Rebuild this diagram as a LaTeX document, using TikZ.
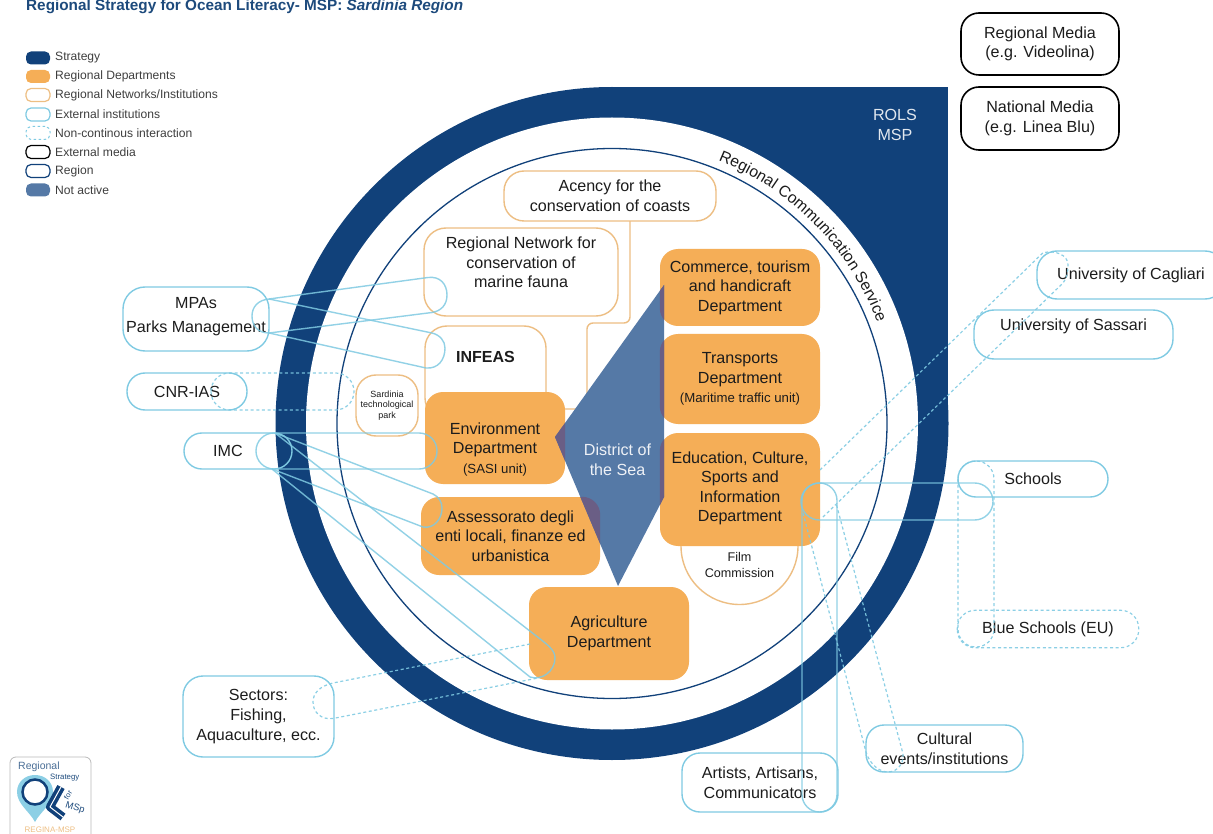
\documentclass[tikz,border=0pt]{standalone}
\usepackage{fontspec}
\setmainfont{Liberation Sans}
\usetikzlibrary{decorations.text}
\definecolor{navy}{HTML}{11417A}
\definecolor{dept}{HTML}{F5AE57}
\definecolor{netline}{HTML}{EDBE83}
\definecolor{sky}{HTML}{7FCAE2}
\definecolor{inactive}{HTML}{5579A6}
\definecolor{overlapc}{HTML}{6A5E85}
\definecolor{ink}{HTML}{1C1C1C}
\definecolor{titlec}{HTML}{1D4A7C}
\tikzset{
  base/.style={rectangle,inner sep=0pt,align=center,text=ink,font=\fontsize{16.1}{19.6}\selectfont},
  deptbox/.style={base,fill=dept,rounded corners=18pt},
  netbox/.style={base,draw=netline,line width=1.4pt,fill=white,rounded corners=20pt},
  extbox/.style={base,draw=sky,line width=1.4pt,rounded corners=18pt},
  medbox/.style={base,draw=black,line width=1.6pt,fill=white,rounded corners=18pt},
  link/.style={draw=sky,line width=1.4pt,opacity=.85},
  dashlink/.style={draw=sky,line width=1.2pt,dash pattern=on 3pt off 2.6pt,opacity=.9},
  swatch/.style={rectangle,minimum width=24pt,minimum height=13pt,inner sep=0pt,rounded corners=5pt},
  legtxt/.style={anchor=west,inner sep=0pt,text=ink!85,font=\fontsize{12.1}{14}\selectfont},
}
\newcommand{\sm}[1]{{\fontsize{13.2}{15}\selectfont #1}}
\begin{document}
\begin{tikzpicture}[x=1pt,y=-1pt]
\useasboundingbox (0,0) rectangle (1213,834);
% strategy ground
\fill[navy] (612,423.5) circle[radius=336.5pt];
\fill[navy] (612,87) rectangle (948,423.5);
\fill[white] (612,423.5) circle[radius=306pt];
\draw[navy,line width=1.3pt] (612,423.5) circle[radius=275pt];
\path[decorate,decoration={text along path,text align=left,
  text={|\fontsize{15.8}{18}\selectfont\color{ink}|Regional Communication Service}}]
  ({612+284*cos(68)},{423.5-284*sin(68)}) arc[start angle=68,end angle=15,radius=284pt];
\node[base,text=white!88!navy] (rols) at (895,125) {ROLS\\MSP};
% title
\node[anchor=west,inner sep=0pt,text=titlec,font=\bfseries\fontsize{15.3}{16}\selectfont] (title) at (26,7)
  {Regional Strategy for Ocean Literacy- MSP: \textit{Sardinia Region}};
% legend
\node[swatch,fill=navy] (l1) at (38,58) {};
\node[swatch,fill=dept] (l2) at (38,76.5) {};
\node[swatch,draw=netline,line width=1.2pt] (l3) at (38,95) {};
\node[swatch,draw=sky,line width=1.2pt] (l4) at (38,114.5) {};
\node[swatch,draw=sky,line width=1pt,dash pattern=on 2.5pt off 2.5pt] (l5) at (38,133) {};
\node[swatch,draw=black,line width=1.2pt] (l6) at (38,152) {};
\node[swatch,draw=navy,line width=1.2pt] (l7) at (38,171) {};
\node[swatch,fill=inactive] (l8) at (38,190) {};
\node[legtxt] (t1) at (55,58) {Strategy};
\node[legtxt] (t2) at (55,76.5) {Regional Departments};
\node[legtxt] (t3) at (55,95) {Regional Networks/Institutions};
\node[legtxt] (t4) at (55,114.5) {External institutions};
\node[legtxt] (t5) at (55,133) {Non-continous interaction};
\node[legtxt] (t6) at (55,152) {External media};
\node[legtxt] (t7) at (55,171) {Region};
\node[legtxt] (t8) at (55,190) {Not active};
% media
\node[medbox,minimum width=158pt,minimum height=62pt] (rmedia) at (1040,44) {Regional Media\\(e.g. Videolina)};
\node[medbox,minimum width=158pt,minimum height=63pt] (nmedia) at (1040,118.5) {National Media\\(e.g. Linea Blu)};
% regional networks
\coordinate (fa) at (630,221);
\coordinate (fb) at (630,323);
\coordinate (fc) at (587,323);
\coordinate (fd) at (587,409);
\coordinate (fe) at (560,409);
\draw[netline,line width=1.4pt,rounded corners=6pt] (fa) -- (fb) -- (fc) -- (fd) -- (fe);
\node[netbox,minimum width=212pt,minimum height=50pt] (acency) at (610,196) {Acency for the\\conservation of coasts};
\node[netbox,minimum width=194pt,minimum height=88pt,rounded corners=22pt] (rnet) at (521,272) {Regional Network for\\conservation of\\marine fauna\\\mbox{}};
\node[netbox,minimum width=121pt,minimum height=94pt,rounded corners=22pt,font=\bfseries\fontsize{16}{19.6}\selectfont] (infeas) at (485.5,373) {INFEAS\\[12.4pt]\mbox{}};
\node[netbox,minimum width=62pt,minimum height=61pt,font=\fontsize{9}{10.5}\selectfont] (park) at (387,405.5) {Sardinia\\technological\\park};
\node[netbox,circle,rounded corners=0pt,minimum size=117pt,font=\fontsize{12.6}{16}\selectfont] (film) at (739.5,546) {\mbox{}\\[32pt]Film\\Commission};
% departments
\node[deptbox,minimum width=140pt,minimum height=92pt] (env) at (495,438) {\mbox{}\\[14.4pt]Environment\\Department\\\sm{(SASI unit)}};
\node[deptbox,minimum width=179pt,minimum height=78pt] (assess) at (510.5,536) {Assessorato degli\\enti locali, finanze ed\\urbanistica};
\node[deptbox,minimum width=160pt,minimum height=93pt] (agri) at (609,633.5) {Agriculture\\Department\\[-16pt]\mbox{}};
\node[deptbox,minimum width=160pt,minimum height=77pt] (comm) at (740,287.5) {Commerce, tourism\\and handicraft\\Department};
\node[deptbox,minimum width=160pt,minimum height=90pt] (trans) at (740,379) {Transports\\Department\\\sm{(Maritime traffic unit)}};
\node[deptbox,minimum width=160pt,minimum height=113pt] (edu) at (740,489.5) {Education, Culture,\\Sports and\\Information\\Department\\[-14pt]\mbox{}};
% district of the sea
\coordinate (da) at (555,437);
\coordinate (db) at (664,285);
\coordinate (dc) at (664,497);
\coordinate (dd) at (618,586);
\fill[inactive] (da) -- (db) -- (dc) -- (dd) -- cycle;
\begin{scope}
\clip (da) -- (db) -- (dc) -- (dd) -- cycle;
\fill[overlapc,rounded corners=18pt] (env.south west) rectangle (env.north east);
\fill[overlapc,rounded corners=18pt] (assess.south west) rectangle (assess.north east);
\fill[overlapc,rounded corners=18pt] (comm.south west) rectangle (comm.north east);
\fill[overlapc,rounded corners=18pt] (trans.south west) rectangle (trans.north east);
\fill[overlapc,rounded corners=18pt] (edu.south west) rectangle (edu.north east);
\end{scope}
\node[base,text=white!90!inactive] (district) at (617.5,460) {District of\\the Sea};
% external institutions
\node[extbox,minimum width=146pt,minimum height=64pt,rounded corners=22pt] (mpas) at (196,319) {MPAs\\[4.4pt]Parks Management\\[-12pt]\mbox{}};
\node[extbox,minimum width=120pt,minimum height=37pt] (cnr) at (187,391.5) {CNR-IAS};
\node[extbox,minimum width=108pt,minimum height=36pt,rounded corners=17.9pt] (imc) at (238,451) {IMC\hspace*{20pt}};
\node[extbox,minimum width=151pt,minimum height=81pt,rounded corners=20pt] (sect) at (258.5,716.5) {Sectors:\\Fishing,\\Aquaculture, ecc.};
\node[extbox,minimum width=188pt,minimum height=48pt,rounded corners=20pt] (cag) at (1131,275) {University of Cagliari};
\node[extbox,minimum width=199pt,minimum height=49pt,rounded corners=20pt] (sass) at (1073.5,334.5) {University of Sassari\\\mbox{}};
\node[extbox,minimum width=150pt,minimum height=36pt,rounded corners=17.9pt] (sch) at (1033,479) {Schools};
\node[extbox,minimum width=180pt,minimum height=36pt,rounded corners=17.9pt,draw=none] (blue) at (1048,629) {Blue Schools (EU)};
\draw[dashlink,rounded corners=17.9pt] (blue.south west) rectangle (blue.north east);
\node[extbox,minimum width=157pt,minimum height=47pt] (cult) at (944.5,748.5) {Cultural\\events/institutions};
\node[extbox,minimum width=156pt,minimum height=59pt] (art) at (760,782.5) {Artists, Artisans,\\Communicators};
% connectors: MPAs
\coordinate (m1) at (269,299);
\coordinate (m2) at (269,333);
\coordinate (r1) at (428,277.5);
\coordinate (r2) at (432,312.5);
\coordinate (i1) at (432,333);
\coordinate (i2) at (426,368);
\draw[link] (m1) -- (r1) .. controls (440,276) and (447,284) .. (447,295) .. controls (447,305) and (441,311) .. (r2) -- (m2)
  .. controls (258,333) and (252,326) .. (252,316) .. controls (252,307) and (258,300) .. (m1);
\draw[link] (m1) -- (i1) .. controls (440,335) and (445,341) .. (445,348) .. controls (445,360) and (438,369) .. (i2) -- (m2);
% CNR to park
\coordinate (c1) at (211,373);
\coordinate (c2) at (354,410);
\draw[dashlink,rounded corners=18.4pt] (c1) rectangle (c2);
% IMC
\coordinate (e1) at (256,433);
\coordinate (e2) at (437,469);
\draw[link,rounded corners=17.9pt] (e1) rectangle (e2);
\coordinate (im1) at (275,433);
\coordinate (im2) at (272,469);
\coordinate (as1) at (433,494);
\coordinate (as2) at (423,527);
\coordinate (ag1) at (535,635);
\coordinate (ag2) at (530,677);
\draw[link] (im1) -- (as1) .. controls (439,497) and (442,502) .. (442,508) .. controls (442,519) and (434,529) .. (as2) -- (im2);
\draw[link] (im1) -- (ag1) .. controls (548,645) and (555,650) .. (555,658) .. controls (555,671) and (542,681) .. (ag2) -- (im2);
% Sectors
\coordinate (s1) at (333,683);
\coordinate (s2) at (333,718.5);
\coordinate (ga1) at (530,644);
\coordinate (ga2) at (538,678);
\draw[dashlink] (ga1) -- (s1) .. controls (320,686) and (313,693) .. (313,702) .. controls (313,713) and (322,720) .. (s2) -- (ga2);
% Education
\coordinate (u1) at (801,483);
\coordinate (u2) at (993,520);
\draw[link,rounded corners=18.4pt] (u1) rectangle (u2);
\coordinate (a1) at (802,483);
\coordinate (a2) at (837,812);
\draw[link,rounded corners=17.4pt] (a1) rectangle (a2);
% universities
\coordinate (x1) at (820,470);
\coordinate (x2) at (822,518);
\coordinate (y1) at (1043,252.7);
\coordinate (y2) at (1063,283);
\draw[dashlink] (x1) -- (y1) .. controls (1056,250) and (1068,255) .. (1068,265) .. controls (1068,272) and (1067,278) .. (y2) -- (x2);
% schools
\coordinate (b1) at (958,461);
\coordinate (b2) at (994,647);
\draw[dashlink,rounded corners=17.9pt] (b1) rectangle (b2);
% cultural
\coordinate (k1) at (803,513);
\coordinate (k2) at (866,752);
\coordinate (k3) at (836,503);
\coordinate (k4) at (902,750);
\draw[dashlink] (k1) -- (k2) .. controls (870,765) and (880,772) .. (888,772) .. controls (898,772) and (906,762) .. (k4) -- (k3);
% logo
\draw[gray!55,line width=.8pt,rounded corners=6pt] (10,840) -- (10,757) -- (91,757) -- (91,840);
\node[anchor=west,inner sep=0pt,text=titlec!80,font=\fontsize{10.5}{12}\selectfont] (lg1) at (18,767) {Regional};
\node[anchor=west,inner sep=0pt,text=titlec,font=\fontsize{7.8}{9}\selectfont] (lg2) at (50,777.5) {Strategy};
\fill[sky!90!white] (35,822) .. controls (30,812) and (17,804) .. (17,792) .. controls (17,782) and (25,775) .. (35,775) .. controls (45,775) and (53,782) .. (53,792) .. controls (53,804) and (40,812) .. (35,822) -- cycle;
\draw[navy,line width=2.5pt,fill=white] (35,792) circle[radius=12.5pt];
\draw[navy,line width=3.6pt,double=white,double distance=1pt,line join=round] (61,787) -- (50,807) -- (63,817);
\node[inner sep=0pt,rotate=60,text=titlec,font=\fontsize{7.5}{9}\selectfont] (lg3) at (68,795) {for};
\node[inner sep=0pt,rotate=-18,text=titlec,font=\fontsize{9.5}{11}\selectfont] (lg4) at (75,808) {MSp};
\node[inner sep=0pt,text=netline,font=\fontsize{8}{9}\selectfont] (lg5) at (50,830) {REGINA-MSP};
\end{tikzpicture}
\end{document}
